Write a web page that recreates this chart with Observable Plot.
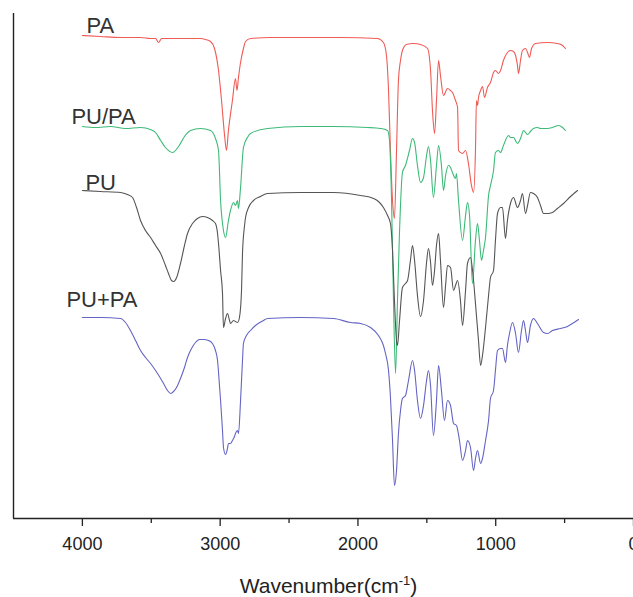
<!DOCTYPE html>
<html><head><meta charset="utf-8">
<script src="https://cdn.jsdelivr.net/npm/d3@7"></script>
<script src="https://cdn.jsdelivr.net/npm/@observablehq/plot@0.6"></script>
<style>html,body{margin:0;padding:0;background:#fff;overflow:hidden}</style>
</head><body><div id="chart"></div>
<script>
const seriesNames = ["PA", "PU/PA", "PU", "PU+PA"];
const seriesColors = ["#ef5b55", "#3dba78", "#555555", "#6464c4"];

const paWavenumber = [4000,3869,3723,3578,3505,3469,3447,3425,3288,3143,3106,3070,3041,3012,2990,2968,2954,2940,2911,2889,2878,2867,2852,2831,2816,2780,2635,2417,2127,1858,1815,1793,1778,1764,1749,1735,1720,1706,1691,1677,1648,1597,1546,1495,1473,1459,1444,1430,1415,1401,1379,1350,1328,1314,1292,1277,1270,1241,1219,1198,1176,1161,1147,1140,1132,1125,1110,1096,1081,1060,1038,1016,1002,980,965,944,915,893,871,856,842,835,820,806,784,769,755,740,711,624,552,515,494];
const paValue = [483,482,481,481,480,480,476,480,480,480,479,477,470,448,418,383,368,388,418,440,428,441,456,470,477,480,481,481,481,480,476,463,428,368,318,300,368,438,458,468,474,475,474,470,448,408,385,418,458,443,423,430,428,426,418,411,368,365,368,355,333,326,368,418,413,421,428,432,421,431,436,446,448,445,448,458,466,468,467,463,453,445,458,468,470,466,461,470,475,476,475,473,470];

const pupaWavenumber = [4000,3905,3796,3687,3578,3505,3469,3432,3397,3346,3302,3259,3215,3143,3070,3034,3012,2997,2976,2961,2940,2925,2903,2889,2874,2867,2852,2831,2802,2780,2656,2417,2177,1931,1837,1785,1771,1756,1742,1727,1713,1698,1677,1655,1626,1604,1589,1568,1546,1524,1502,1488,1473,1452,1430,1415,1394,1379,1364,1343,1328,1314,1292,1285,1270,1241,1219,1205,1190,1169,1147,1132,1118,1103,1089,1074,1052,1038,1016,1002,980,965,944,907,893,871,842,820,798,769,748,726,697,675,624,588,544,515,494];
const pupaValue = [392,391,392,390,391,389,386,378,371,366,372,382,388,390,388,380,368,318,288,281,298,308,316,313,318,310,331,371,381,385,390,392,392,391,390,388,378,318,218,145,218,288,346,353,368,380,376,353,336,341,363,372,358,321,353,373,353,328,343,353,351,346,340,345,318,278,303,316,303,235,278,295,278,258,268,281,323,333,348,366,368,366,373,383,381,381,375,380,388,384,387,390,391,390,390,391,393,391,388];

const puWavenumber = [4000,3869,3723,3673,3636,3607,3578,3542,3505,3469,3432,3397,3375,3353,3338,3316,3288,3259,3237,3201,3165,3128,3092,3056,3034,3019,3012,2997,2983,2976,2961,2947,2932,2925,2903,2889,2874,2860,2845,2838,2823,2816,2794,2758,2707,2656,2417,2177,1981,1887,1851,1815,1785,1764,1749,1735,1720,1713,1698,1677,1655,1640,1619,1604,1589,1568,1546,1524,1502,1488,1473,1459,1444,1430,1415,1401,1379,1364,1350,1328,1306,1292,1277,1256,1241,1219,1205,1183,1161,1147,1125,1110,1096,1074,1052,1038,1016,1002,987,965,951,929,915,893,871,842,820,806,784,769,748,726,697,675,653,624,588,552,508,457,406];
const puValue = [328,327,326,324,321,311,298,288,281,273,265,253,245,238,237,241,255,273,285,295,300,302,301,298,295,285,275,248,225,191,200,205,198,195,198,197,196,201,228,265,293,301,311,318,322,325,326,326,323,320,317,311,303,295,268,218,178,173,198,231,235,238,258,273,258,223,202,218,256,270,256,233,248,273,285,258,211,233,253,251,228,233,238,218,193,228,255,261,238,215,178,153,163,191,223,241,248,278,305,311,311,280,298,315,321,311,318,325,305,313,326,325,321,313,305,305,306,310,315,322,328];

const puPlusPaWavenumber = [4000,3869,3723,3687,3651,3614,3578,3542,3505,3469,3432,3403,3382,3360,3338,3309,3288,3259,3237,3208,3179,3150,3121,3085,3056,3034,3019,3005,2997,2983,2976,2961,2947,2940,2925,2911,2896,2889,2874,2867,2852,2838,2831,2809,2780,2744,2686,2656,2417,2177,2054,1981,1909,1851,1815,1800,1778,1764,1749,1735,1720,1706,1691,1677,1655,1633,1604,1589,1568,1546,1524,1502,1488,1473,1452,1430,1415,1394,1372,1350,1328,1306,1285,1263,1241,1219,1205,1183,1161,1147,1132,1110,1096,1074,1052,1038,1016,1002,987,965,951,929,915,900,878,856,835,813,798,784,769,748,726,697,653,624,588,530,479,443,399];
const puPlusPaValue = [201,201,200,196,188,178,168,161,155,148,140,133,128,125,127,133,140,151,161,170,176,179,179,178,175,168,158,133,118,88,71,64,70,75,75,78,82,85,88,85,118,158,175,183,188,193,198,200,201,200,196,195,191,183,173,165,148,121,78,33,48,85,108,120,123,138,158,148,118,100,113,138,148,133,83,118,153,128,98,118,113,95,93,78,58,68,78,71,48,60,68,55,60,78,98,120,128,148,168,170,170,156,173,185,196,185,166,188,198,188,176,193,200,195,186,185,188,190,192,195,199];

const majorTicks = [4000, 3000, 2000, 1000, 0];
const minorTicks = [3500, 2500, 1500, 500];
const axisTitle = "Wavenumber(cm-1)";

const seriesData = [
  [paWavenumber, paValue],
  [pupaWavenumber, pupaValue],
  [puWavenumber, puValue],
  [puPlusPaWavenumber, puPlusPaValue]
];
const rows = [];
seriesNames.forEach((name, i) => {
  const [w, v] = seriesData[i];
  for (let j = 0; j < w.length; j++) rows.push({series: name, wn: w[j], v: v[j]});
});

// label nudges relative to each curve's starting point (layout only)
const labelNudge = {"PA": [4, -3], "PU/PA": [-11, -3], "PU": [3, -1], "PU+PA": [-16, -11]};
const labelMarks = seriesNames.map((name) => {
  const first = rows.find(r => r.series === name);
  return Plot.text([first], {
    x: "wn", y: "v", text: d => d.series,
    textAnchor: "start", lineAnchor: "bottom",
    dx: labelNudge[name][0], dy: labelNudge[name][1],
    fontSize: 22, fill: "#333"
  });
});

const plot = Plot.plot({
  width: 633, height: 597,
  marginTop: 13, marginBottom: 79, marginLeft: 13, marginRight: 0,
  style: {fontFamily: "'Liberation Sans', Arial, sans-serif", background: "#fff", color: "#222"},
  x: {domain: [4500, 0]},
  y: {domain: [0, 505], axis: null},
  color: {domain: seriesNames, range: seriesColors},
  marks: [
    Plot.line(rows, {x: "wn", y: "v", z: "series", stroke: "series", strokeWidth: 1.1, curve: "monotone-x"}),
    ...labelMarks,
    Plot.ruleY([0], {stroke: "#222", strokeWidth: 1.4}),
    Plot.ruleX([4500], {y1: 0, y2: 505, stroke: "#222", strokeWidth: 1.4}),
    Plot.axisX({ticks: majorTicks, tickSize: 8, tickPadding: 11, fontSize: 18, label: null, strokeWidth: 1.3, tickFormat: d => String(d)}),
    Plot.axisX({ticks: minorTicks, tickSize: 5, tickFormat: () => "", label: null, strokeWidth: 1.3}),
    Plot.text([axisTitle], {text: d => d, frameAnchor: "bottom", dx: 5, dy: 74, lineAnchor: "bottom", fontSize: 21, fill: "#222"})
  ]
});

document.getElementById("chart").appendChild(plot);

// render the superscript in the axis title
d3.select(plot).selectAll("text").filter(function() { return this.textContent === axisTitle; })
  .each(function() {
    const t = d3.select(this);
    t.text(null);
    t.append("tspan").text("Wavenumber(cm");
    t.append("tspan").attr("dy", -8).attr("font-size", 13).text("-1");
    t.append("tspan").attr("dy", 8).text(")");
  });
</script>
</body></html>
